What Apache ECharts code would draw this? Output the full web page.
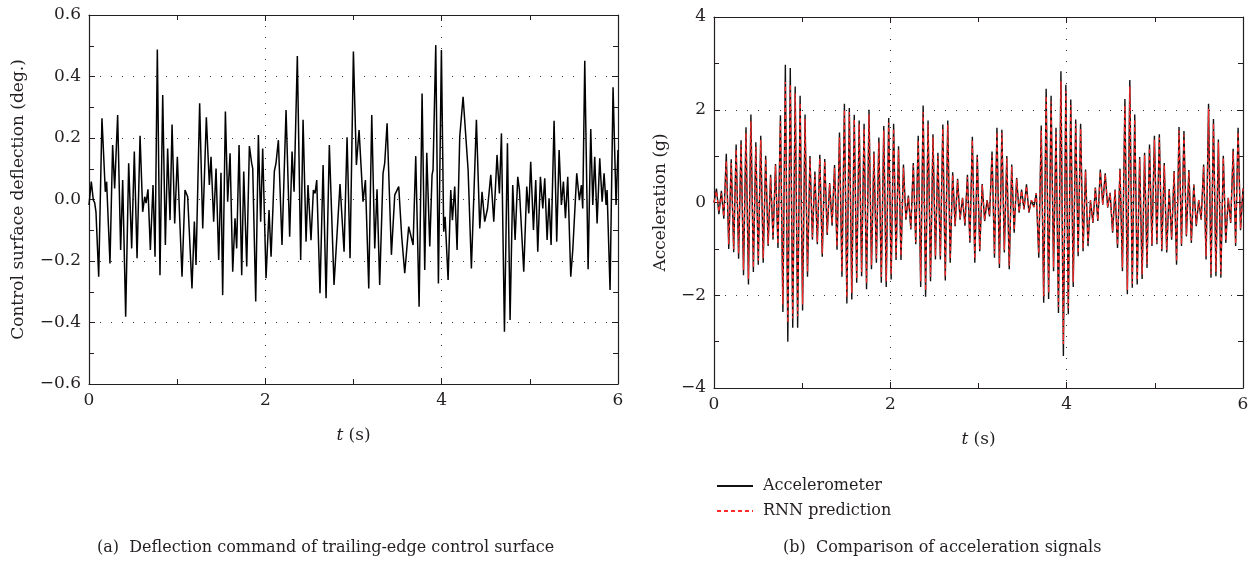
<!DOCTYPE html>
<html>
<head>
<meta charset="utf-8">
<script src="https://cdn.jsdelivr.net/npm/echarts@6/dist/echarts.min.js"></script>
<style>html,body{margin:0;padding:0;background:#fff;}#c{width:1254px;height:567px;}</style>
</head>
<body>
<div id="c"></div>
<script>
// ---- Panel (a): control surface deflection command (deg.) ----
const deflT = [0.0,0.026,0.049,0.064,0.079,0.110,0.147,0.185,0.200,0.238,0.268,0.291,0.325,0.359,0.382,0.416,0.450,0.484,0.514,0.545,0.579,0.609,0.632,0.647,0.669,0.696,0.726,0.749,0.775,0.805,0.836,0.866,0.892,0.919,0.942,0.972,1.002,1.025,1.055,1.089,1.119,1.138,1.168,1.195,1.214,1.255,1.290,1.331,1.365,1.384,1.414,1.441,1.471,1.497,
1.516,1.547,1.573,1.600,1.630,1.656,1.675,1.702,1.732,1.755,1.789,1.819,1.845,1.857,1.891,1.921,1.947,1.970,2.008,2.042,2.065,2.102,2.121,2.148,2.189,2.235,2.276,2.303,2.326,2.363,2.401,2.428,2.462,2.484,2.518,2.545,2.564,2.583,2.620,2.655,2.689,2.726,2.779,2.847,2.893,2.927,2.961,2.999,
3.033,3.063,3.108,3.135,3.173,3.207,3.241,3.267,3.297,3.335,3.354,3.381,3.430,3.468,3.486,3.513,3.547,3.581,3.626,3.676,3.706,3.744,3.778,3.808,3.831,3.865,3.891,3.902,3.933,3.963,3.997,4.023,4.039,4.073,4.103,4.122,4.148,4.175,4.205,4.243,4.300,4.337,4.394,4.432,4.458,4.488,4.520,
4.557,4.591,4.628,4.655,4.678,4.712,4.746,4.776,4.806,4.833,4.863,4.882,4.901,4.931,4.965,4.988,5.010,5.041,5.067,5.090,5.120,5.147,5.169,5.196,5.218,5.241,5.275,5.305,5.332,5.358,5.381,5.404,5.430,5.464,5.487,5.500,5.532,5.562,5.585,5.600,5.623,5.661,5.691,5.714,5.736,5.763,5.793,5.820,5.842,5.865,5.876,5.910,5.944,5.978,6.0];
const deflV = [-0.018,0.058,-0.002,-0.010,-0.040,-0.251,0.264,0.025,0.058,-0.208,0.177,0.036,0.275,-0.164,0.063,-0.381,0.118,-0.159,0.156,-0.191,0.207,-0.040,0.009,-0.012,0.033,-0.164,0.047,-0.186,0.488,-0.246,0.340,-0.148,0.166,-0.067,0.244,-0.078,0.139,-0.034,-0.251,0.031,0.009,0.004,-0.289,-0.072,-0.213,0.313,-0.094,0.267,0.047,0.139,-0.072,0.101,-0.197,0.087,
-0.311,0.286,-0.007,0.150,-0.235,-0.061,-0.159,0.177,-0.246,0.091,-0.218,0.174,0.118,0.101,-0.332,0.210,-0.072,0.166,-0.256,-0.034,-0.186,0.091,0.118,0.193,-0.148,0.291,-0.121,0.156,0.025,0.467,-0.197,0.259,-0.137,0.047,-0.132,0.031,0.020,0.063,-0.305,0.112,-0.321,0.177,-0.278,0.050,-0.170,0.202,-0.191,0.481,
0.112,0.226,-0.007,0.063,-0.289,0.275,-0.159,0.033,-0.278,0.085,0.118,0.248,-0.180,0.015,0.015,0.042,-0.121,-0.240,-0.088,-0.148,0.141,-0.349,0.345,-0.229,0.152,-0.153,0.080,0.096,0.502,-0.273,0.486,-0.105,-0.056,-0.262,0.031,-0.067,0.042,-0.164,0.204,0.334,0.096,-0.224,0.259,-0.094,0.025,-0.072,-0.030,
0.080,-0.072,0.145,0.020,0.215,-0.430,0.183,-0.392,0.047,-0.132,0.074,0.031,0.036,-0.235,0.042,-0.045,0.123,-0.099,0.063,-0.170,0.074,-0.029,0.069,-0.132,0.004,-0.148,0.256,-0.137,0.161,-0.018,0.058,-0.061,0.074,-0.251,-0.164,-0.159,0.085,-0.002,0.047,-0.029,0.451,-0.227,0.229,-0.018,0.139,-0.078,0.134,-0.007,0.085,-0.018,0.031,-0.294,0.365,-0.018,0.161];

// ---- Panel (b): acceleration (g), successive extremes sampled evenly over 0..6 s ----
const accelMeasured = [0,
0.3,-0.25, 0.25,-0.35, 1.05,-1.0, 0.93,-1.07, 1.25,-1.21, 1.34,-1.57, 1.62,-1.77, 1.9,-1.5, 1.3,-1.34, 1.44,-1.3,
1.01,-0.94, 0.6,-0.8, 0.83,-0.98, 1.88,-2.36, 2.97,-3.0, 2.9,-2.7, 2.5,-2.7, 2.3,-2.33, 1.9,-1.6, 1.0,-0.8,
0.67,-0.9, 1.03,-1.17, 0.94,-0.7, 0.42,-0.5, 0.81,-1.02, 1.51,-1.6, 2.13,-2.18, 2.04,-2.09, 1.89,-1.73, 1.77,-1.59,
1.7,-1.87, 2.0,-1.44, 1.1,-1.3, 1.4,-1.73, 1.65,-1.82, 1.82,-1.66, 1.70,-1.24, 1.21,-1.24, 0.82,-0.37, 0.15,-0.58,
0.85,-0.9, 1.44,-1.82, 2.09,-2.03, 1.77,-1.7, 1.47,-1.23, 1.07,-1.23, 1.68,-1.68, 1.77,-1.3, 0.65,-0.51, 0.51,-0.37,
0.1,-0.5, 0.6,-0.87, 1.42,-1.3, 1.03,-1.05, 0.4,-0.4, 0.05,-0.3, 1.1,-1.19, 1.61,-1.41, 1.57,-1.08, 1.0,-1.44,
0.82,-0.65, 0.53,-0.22, 0.28,-0.15, 0.39,-0.22, 0.05,-0.1, 0.2,-1.19, 1.66,-2.16, 2.45,-2.08, 2.3,-1.48, 1.61,-2.38,
2.83,-3.31, 2.54,-2.41, 2.22,-1.82, 1.79,-1.16, 1.70,-1.05, 0.71,-0.94, 0.05,-0.44, 0.32,-0.4, 0.71,-0.05, 0.63,-0.11,
0.21,-0.65, 0.28,-0.98, 0.73,-1.48, 2.23,-1.98, 2.64,-1.84, 1.9,-1.77, 0.98,-1.65, 1.07,-1.41, 1.25,-0.94, 1.44,-0.9,
1.47,-1.05, 0.85,-1.08, 0.29,-0.8, 0.68,-1.34, 1.63,-0.94, 1.54,-0.73, 0.7,-0.87, 0.39,-0.51, 0.05,-0.37, 0.82,-1.23,
2.13,-1.62, 1.80,-1.59, 1.36,-1.62, 1.01,-0.87, 0.1,-0.44, 1.16,-0.94, 1.61,-0.6, 0.3];
const accelRNN = [0,
0.25,-0.2, 0.2,-0.3, 0.9,-0.9, 0.85,-1.0, 1.15,-1.1, 1.25,-1.45, 1.5,-1.65, 1.75,-1.4, 1.2,-1.25, 1.35,-1.2,
0.95,-0.9, 0.55,-0.75, 0.8,-0.9, 1.75,-2.2, 2.6,-2.6, 2.55,-2.5, 2.35,-2.45, 2.15,-2.2, 1.8,-1.5, 0.95,-0.75,
0.6,-0.85, 0.95,-1.1, 0.9,-0.65, 0.4,-0.45, 0.75,-0.95, 1.4,-1.5, 2.0,-2.05, 1.95,-1.95, 1.8,-1.65, 1.7,-1.5,
1.6,-1.75, 1.9,-1.35, 1.05,-1.2, 1.3,-1.6, 1.55,-1.7, 1.72,-1.55, 1.6,-1.18, 1.15,-1.15, 0.75,-0.35, 0.12,-0.55,
0.8,-0.85, 1.35,-1.7, 1.95,-1.9, 1.68,-1.6, 1.4,-1.15, 1.0,-1.15, 1.6,-1.6, 1.68,-1.22, 0.6,-0.48, 0.48,-0.35,
0.1,-0.45, 0.55,-0.82, 1.35,-1.22, 0.98,-1.0, 0.38,-0.38, 0.05,-0.28, 1.02,-1.1, 1.52,-1.33, 1.5,-1.02, 0.95,-1.36,
0.78,-0.6, 0.5,-0.2, 0.26,-0.14, 0.36,-0.2, 0.05,-0.1, 0.2,-1.1, 1.55,-2.02, 2.3,-1.95, 2.18,-1.4, 1.52,-2.25,
2.62,-3.05, 2.4,-2.28, 2.1,-1.72, 1.7,-1.1, 1.6,-1.0, 0.67,-0.88, 0.05,-0.42, 0.3,-0.38, 0.67,-0.05, 0.6,-0.1,
0.2,-0.62, 0.27,-0.92, 0.7,-1.4, 2.1,-1.88, 2.5,-1.75, 1.8,-1.68, 0.93,-1.55, 1.02,-1.33, 1.18,-0.9, 1.36,-0.86,
1.4,-1.0, 0.8,-1.02, 0.28,-0.76, 0.65,-1.27, 1.55,-0.9, 1.46,-0.7, 0.66,-0.82, 0.37,-0.48, 0.05,-0.35, 0.78,-1.16,
2.02,-1.54, 1.71,-1.5, 1.3,-1.54, 0.96,-0.83, 0.1,-0.42, 1.1,-0.9, 1.52,-0.57, 0.3];

const tickLeftY = [-0.6, 0.6, 0.2];
const tickRightY = [-4, 4, 2];
const tickX = [0, 6, 2];

const FONT = '"DejaVu Serif", "Liberation Serif", serif';
const INK = '#231f20';

const N = accelMeasured.length;
const tAcc = accelMeasured.map((_, i) => +(i * 6 / (N - 1)).toFixed(4));

function fmt(v, dec) {
  const s = Math.abs(v).toFixed(dec);
  return (v < -1e-9 ? '\u2212' : '') + s;
}

function xAxis(gi, pos, main) {
  return {
    type: 'value', gridIndex: gi, position: pos,
    min: tickX[0], max: tickX[1], interval: tickX[2],
    axisLine: { show: true, onZero: false, lineStyle: { color: INK, width: 1.2 } },
    axisTick: { show: true, inside: true, length: 6, lineStyle: { color: INK } },
    minorTick: { show: true, splitNumber: 2, length: 5, lineStyle: { color: INK } },
    axisLabel: { show: main, color: INK, fontFamily: FONT, fontSize: 17, margin: 8 },
    splitLine: { show: main, lineStyle: { color: '#333', type: [1, 10], width: 1 } },
    name: main ? '{i|t} (s)' : '', nameLocation: 'middle', nameGap: 43,
    nameTextStyle: { color: INK, fontFamily: FONT, fontSize: 17,
      rich: { i: { fontStyle: 'italic', fontFamily: FONT, fontSize: 17, color: INK } } }
  };
}
function yAxis(gi, pos, main, ticks, dec, name, gap) {
  return {
    type: 'value', gridIndex: gi, position: pos,
    min: ticks[0], max: ticks[1], interval: ticks[2],
    axisLine: { show: true, onZero: false, lineStyle: { color: INK, width: 1.2 } },
    axisTick: { show: true, inside: true, length: 6, lineStyle: { color: INK } },
    minorTick: { show: true, splitNumber: 2, length: 5, lineStyle: { color: INK } },
    axisLabel: { show: main, color: INK, fontFamily: FONT, fontSize: 17, margin: 8,
      formatter: v => fmt(v, dec) },
    splitLine: { show: main, lineStyle: { color: '#333', type: [1, 10], width: 1 } },
    name: main ? name : '', nameLocation: 'middle', nameGap: gap,
    nameTextStyle: { color: INK, fontFamily: FONT, fontSize: 17 }
  };
}

const chart = echarts.init(document.getElementById('c'), null, { renderer: 'canvas' });
chart.setOption({
  animation: false,
  backgroundColor: '#fff',
  grid: [
    { left: 89, right: 636, top: 15, bottom: 183 },
    { left: 714, right: 11, top: 17, bottom: 179 }
  ],
  xAxis: [xAxis(0, 'bottom', true), xAxis(0, 'top', false), xAxis(1, 'bottom', true), xAxis(1, 'top', false)],
  yAxis: [
    yAxis(0, 'left', true, tickLeftY, 1, 'Control surface deflection (deg.)', 62),
    yAxis(0, 'right', false, tickLeftY, 1, '', 0),
    yAxis(1, 'left', true, tickRightY, 0, 'Acceleration (g)', 45),
    yAxis(1, 'right', false, tickRightY, 0, '', 0)
  ],
  legend: {
    orient: 'vertical', left: 711, top: 473, itemWidth: 36, itemHeight: 12, itemGap: 9,
    itemStyle: { opacity: 0 },
    textStyle: { color: INK, fontFamily: FONT, fontSize: 16, padding: [0, 0, 0, 5] },
    data: ['Accelerometer', 'RNN prediction']
  },
  series: [
    { name: 'Deflection', type: 'line', xAxisIndex: 0, yAxisIndex: 0, symbol: 'none',
      lineStyle: { color: '#000', width: 1.5 },
      data: deflT.map((t, i) => [t, deflV[i]]) },
    { name: 'Accelerometer', type: 'line', xAxisIndex: 2, yAxisIndex: 2, symbol: 'none',
      itemStyle: { color: '#000' },
      lineStyle: { color: '#111', width: 1.4 },
      data: tAcc.map((t, i) => [t, accelMeasured[i]]) },
    { name: 'RNN prediction', type: 'line', xAxisIndex: 2, yAxisIndex: 2, symbol: 'none',
      itemStyle: { color: '#ff2a2a' },
      lineStyle: { color: '#ff2a2a', width: 1.3, type: [4, 3] },
      data: tAcc.map((t, i) => [t, accelRNN[i]]) }
  ],
  graphic: [
    { type: 'text', left: 97, top: 540,
      style: { text: '(a)  Deflection command of trailing-edge control surface', font: '16px ' + FONT, fill: INK } },
    { type: 'text', left: 783, top: 540,
      style: { text: '(b)  Comparison of acceleration signals', font: '16px ' + FONT, fill: INK } }
  ]
});
</script>
</body>
</html>
